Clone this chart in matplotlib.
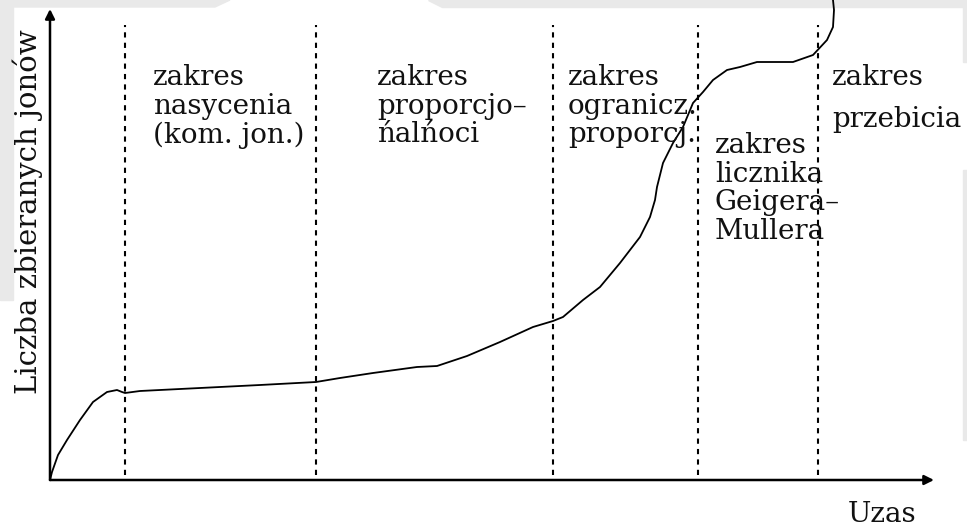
import matplotlib
matplotlib.use("Agg")
from matplotlib import pyplot as plt
from matplotlib.patches import Rectangle, Polygon

curve_x = [0, 2, 8, 17, 30, 43, 57, 67, 72, 75, 90, 150, 210, 266, 290, 323, 367, 387,
           417, 450, 483, 503, 513, 533, 550, 570, 590, 600, 605, 607, 613, 623, 633,
           643, 653, 663, 677, 690, 707, 743, 763, 777, 783, 784, 783]
curve_y = [0, 8, 25, 40, 60, 78, 88, 90, 88, 87, 89, 92, 95, 98, 102, 107, 113, 114,
           124, 138, 153, 159, 163, 180, 193, 217, 243, 263, 280, 293, 317, 337, 353,
           377, 388, 400, 410, 413, 418, 418, 425, 440, 453, 470, 480]

# region borders
borders = [75, 266, 503, 648, 768]

region_labels = ["zakres\nnasycenia\n(kom. jon.)",
                 "zakres\nproporcjo\u2013\n\u0144al\u0144oci",
                 "zakres\nogranicz.\nproporcj.",
                 "zakres\nlicznika\nGeigera\u2013\nMullera"]
label_pos = [(103, 416), (327, 416), (518, 416), (665, 348)]

fig = plt.figure(figsize=(9.67, 5.29), dpi=100)
fig.patch.set_facecolor("white")

# light grey page remnants around the edges
grey = "#e9e9e9"
fig.patches.append(Rectangle((0, 0.433), 13 / 967, 0.567, transform=fig.transFigure, color=grey, zorder=-1))
fig.patches.append(Polygon([(0, 1), (230 / 967, 1), (215 / 967, 1 - 7 / 529), (0, 1 - 7 / 529)],
                           transform=fig.transFigure, color=grey, zorder=-1))
fig.patches.append(Polygon([(428 / 967, 1), (1, 1), (1, 1 - 7 / 529), (442 / 967, 1 - 7 / 529)],
                           transform=fig.transFigure, color=grey, zorder=-1))
fig.patches.append(Rectangle((963 / 967, 1 - 62 / 529), 4 / 967, 62 / 529, transform=fig.transFigure, color=grey, zorder=-1))
fig.patches.append(Rectangle((963 / 967, 1 - 440 / 529), 4 / 967, 270 / 529, transform=fig.transFigure, color=grey, zorder=-1))

ax = fig.add_axes([50 / 967, 49 / 529, 880 / 967, 470 / 529])
ax.set_xlim(0, 880)
ax.set_ylim(0, 470)
ax.axis("off")
ax.patch.set_alpha(0)

font = dict(family="DejaVu Serif", fontsize=20, color="#111111")

# axes with arrows
arrow = dict(arrowstyle="-|>", lw=1.8, color="black", mutation_scale=14, shrinkA=0, shrinkB=0)
ax.annotate("", xy=(884, 0), xytext=(0, 0), arrowprops=arrow, annotation_clip=False)
ax.annotate("", xy=(0, 471), xytext=(0, 0), arrowprops=arrow, annotation_clip=False)

# dotted region borders
for b in borders:
    ax.plot([b, b], [5, 455], color="black", lw=1.5, linestyle=(0, (2.5, 2.5)))

ax.plot(curve_x, curve_y, color="black", lw=1.3, clip_on=False)

for txt, (x, y) in zip(region_labels, label_pos):
    ax.text(x, y, txt, va="top", ha="left", linespacing=1.08, **font)
ax.text(782, 416, "zakres", va="top", ha="left", **font)
ax.text(782, 374, "przebicia", va="top", ha="left", **font)

ax.text(-22, 268, "Liczba zbieranych jon\u00f3w", rotation=90, ha="center", va="center",
        family="DejaVu Serif", fontsize=21, color="#111111")
ax.text(798, -42, "Uzas", ha="left", va="baseline", **font)

fig.savefig("out.png", dpi=100)
